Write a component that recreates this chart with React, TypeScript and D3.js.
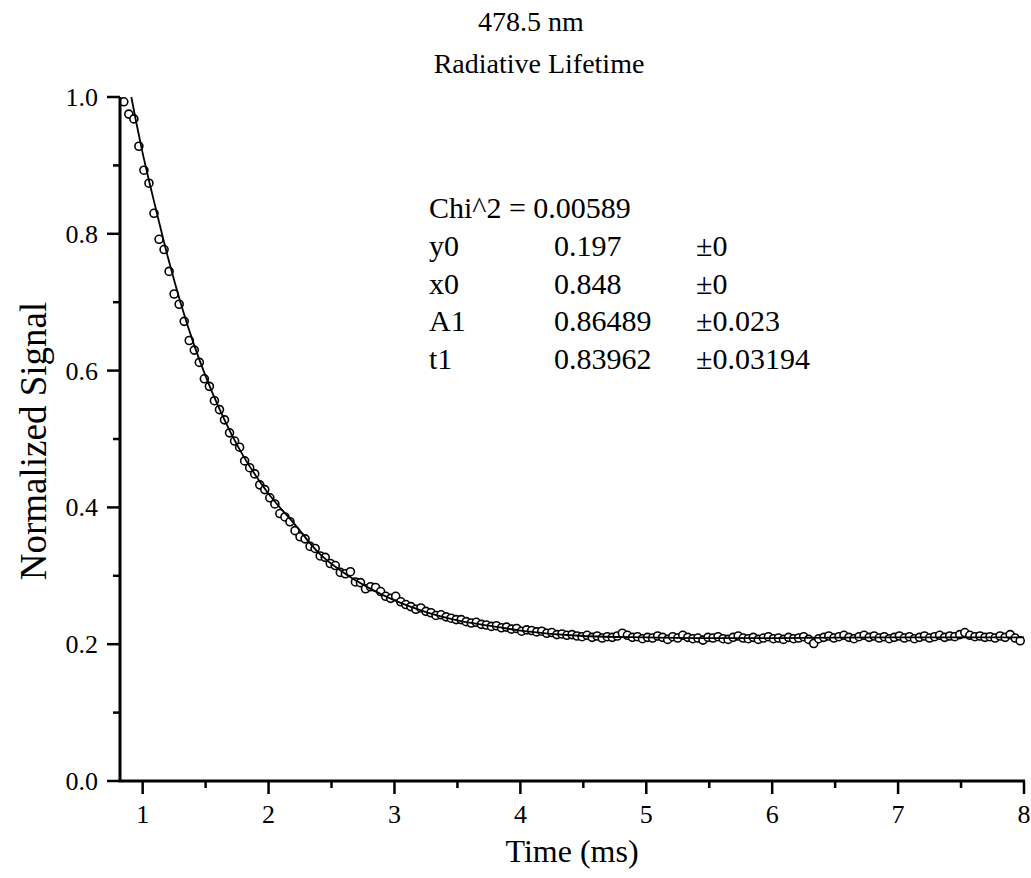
import React from "react";
import * as d3 from "d3";

const times = [
  0.85, 0.89, 0.93, 0.97, 1.01, 1.05, 1.09, 1.13, 1.17, 1.21,
  1.25, 1.29, 1.33, 1.37, 1.41, 1.45, 1.49, 1.53, 1.57, 1.61,
  1.65, 1.69, 1.73, 1.77, 1.81, 1.85, 1.89, 1.93, 1.97, 2.01,
  2.05, 2.09, 2.13, 2.17, 2.21, 2.25, 2.29, 2.33, 2.37, 2.41,
  2.45, 2.49, 2.53, 2.57, 2.61, 2.65, 2.69, 2.73, 2.77, 2.81,
  2.85, 2.89, 2.93, 2.97, 3.01, 3.05, 3.09, 3.13, 3.17, 3.21,
  3.25, 3.29, 3.33, 3.37, 3.41, 3.45, 3.49, 3.53, 3.57, 3.61,
  3.65, 3.69, 3.73, 3.77, 3.81, 3.85, 3.89, 3.93, 3.97, 4.01,
  4.05, 4.09, 4.13, 4.17, 4.21, 4.25, 4.29, 4.33, 4.37, 4.41,
  4.45, 4.49, 4.53, 4.57, 4.61, 4.65, 4.69, 4.73, 4.77, 4.81,
  4.85, 4.89, 4.93, 4.97, 5.01, 5.05, 5.09, 5.13, 5.17, 5.21,
  5.25, 5.29, 5.33, 5.37, 5.41, 5.45, 5.49, 5.53, 5.57, 5.61,
  5.65, 5.69, 5.73, 5.77, 5.81, 5.85, 5.89, 5.93, 5.97, 6.01,
  6.05, 6.09, 6.13, 6.17, 6.21, 6.25, 6.29, 6.33, 6.37, 6.41,
  6.45, 6.49, 6.53, 6.57, 6.61, 6.65, 6.69, 6.73, 6.77, 6.81,
  6.85, 6.89, 6.93, 6.97, 7.01, 7.05, 7.09, 7.13, 7.17, 7.21,
  7.25, 7.29, 7.33, 7.37, 7.41, 7.45, 7.49, 7.53, 7.57, 7.61,
  7.65, 7.69, 7.73, 7.77, 7.81, 7.85, 7.89, 7.93, 7.97,
];

const signal = [
  0.993, 0.975, 0.968, 0.928, 0.893, 0.874, 0.83, 0.792, 0.777, 0.745,
  0.712, 0.697, 0.672, 0.644, 0.63, 0.612, 0.588, 0.577, 0.556, 0.543,
  0.528, 0.509, 0.497, 0.488, 0.468, 0.458, 0.449, 0.433, 0.426, 0.414,
  0.405, 0.391, 0.386, 0.379, 0.366, 0.357, 0.354, 0.343, 0.34, 0.329,
  0.327, 0.318, 0.315, 0.305, 0.303, 0.306, 0.291, 0.29, 0.281, 0.284,
  0.283, 0.277, 0.27, 0.267, 0.27, 0.262, 0.258, 0.255, 0.251, 0.253,
  0.248, 0.246, 0.242, 0.243, 0.24, 0.238, 0.236, 0.236, 0.233, 0.231,
  0.232, 0.229, 0.228, 0.226, 0.227, 0.224, 0.225, 0.222, 0.223, 0.219,
  0.221, 0.22, 0.218, 0.219, 0.216, 0.217, 0.214, 0.215, 0.213, 0.214,
  0.212, 0.211, 0.213, 0.21, 0.212, 0.209, 0.211, 0.21, 0.212, 0.216,
  0.213, 0.21, 0.211, 0.208, 0.21, 0.209, 0.212, 0.21, 0.207, 0.211,
  0.209, 0.213, 0.21, 0.208, 0.209, 0.206, 0.21, 0.209, 0.211, 0.208,
  0.207, 0.21, 0.212, 0.209, 0.208, 0.21, 0.207, 0.209, 0.211, 0.208,
  0.209, 0.207, 0.21, 0.208, 0.209, 0.211, 0.207, 0.201, 0.208, 0.21,
  0.212, 0.209, 0.211, 0.213, 0.21, 0.208, 0.211, 0.213, 0.21, 0.212,
  0.209, 0.211, 0.208, 0.21, 0.212, 0.209, 0.211, 0.208, 0.21, 0.212,
  0.209, 0.211, 0.213, 0.21, 0.212, 0.211, 0.214, 0.217, 0.213, 0.211,
  0.212, 0.21, 0.211, 0.209, 0.212, 0.21, 0.214, 0.209, 0.205,
];

const fitTimes = [
  0.91, 0.95, 1.0, 1.05, 1.1, 1.2, 1.3, 1.4, 1.5, 1.6, 1.7, 1.8, 1.9, 2.0,
  2.2, 2.4, 2.6, 2.8, 3.0, 3.25, 3.5, 3.75, 4.0, 4.5, 5.0, 5.5, 6.0, 7.0, 8.0,
];
const fitValues = [
  1.0, 0.962, 0.918, 0.878, 0.84, 0.766, 0.7, 0.642, 0.592, 0.548, 0.509, 0.475, 0.446, 0.42,
  0.377, 0.333, 0.304, 0.282, 0.264, 0.247, 0.235, 0.227, 0.22, 0.212, 0.21, 0.209, 0.209, 0.21, 0.21,
];

const xMajorTicks = [1, 2, 3, 4, 5, 6, 7, 8];
const xMinorTicks = [1.5, 2.5, 3.5, 4.5, 5.5, 6.5, 7.5];
const yMajorTicks = [0, 0.2, 0.4, 0.6, 0.8, 1.0];
const yMinorTicks = [0.1, 0.3, 0.5, 0.7, 0.9];

const fitLabels = ["y0", "x0", "A1", "t1"];
const fitParams = ["0.197", "0.848", "0.86489", "0.83962"];
const fitErrors = ["\u00b10", "\u00b10", "\u00b10.023", "\u00b10.03194"];
const chiText = "Chi^2 = 0.00589";

const FONT = "Liberation Serif, Times New Roman, Times, serif";

export default function App() {
  const W = 1031;
  const H = 878;
  const x = d3.scaleLinear().domain([0.82, 8]).range([120, 1024]);
  const y = d3.scaleLinear().domain([0, 1]).range([781, 97]);

  const pts = times.map((t, i) => [t, signal[i]] as [number, number]);
  const fitPts = fitTimes.map((t, i) => [t, fitValues[i]] as [number, number]);
  const line = d3
    .line<[number, number]>()
    .x((d) => x(d[0]))
    .y((d) => y(d[1]))
    .curve(d3.curveMonotoneX);

  const axisColor = "#000";
  const x0 = x.range()[0];
  const yb = y(0);
  const ts = { fontFamily: FONT, fill: "#000" } as React.CSSProperties;

  return (
    <svg
      width={W}
      height={H}
      style={{ position: "absolute", left: 0, top: 0, background: "#fff" }}
    >
      <rect x={0} y={0} width={W} height={H} fill="#fff" />
      {/* titles */}
      <text x={531} y={31} fontSize={28} textAnchor="middle" style={ts}>478.5 nm</text>
      <text x={539} y={73} fontSize={28} textAnchor="middle" style={ts}>Radiative Lifetime</text>

      {/* data points */}
      <g>
        {pts.map((d, i) => (
          <circle
            key={i}
            cx={x(d[0])}
            cy={y(d[1])}
            r={4}
            fill="#fff"
            stroke="#000"
            strokeWidth={1.6}
          />
        ))}
      </g>
      {/* fit line */}
      <path d={line(fitPts) || ""} fill="none" stroke="#000" strokeWidth={1.8} />

      {/* axes */}
      <line x1={x0} x2={x0} y1={y(1)} y2={yb} stroke={axisColor} strokeWidth={3} />
      <line x1={x0 - 1.5} x2={x(8) + 1} y1={yb} y2={yb} stroke={axisColor} strokeWidth={3} />
      {yMajorTicks.map((v) => (
        <g key={"ym" + v}>
          <line x1={x0 - 13} x2={x0} y1={y(v)} y2={y(v)} stroke={axisColor} strokeWidth={2.5} />
          <text x={x0 - 22} y={y(v) + 9} fontSize={26} textAnchor="end" style={ts}>
            {v.toFixed(1)}
          </text>
        </g>
      ))}
      {yMinorTicks.map((v) => (
        <line key={"yn" + v} x1={x0 - 7} x2={x0} y1={y(v)} y2={y(v)} stroke={axisColor} strokeWidth={2.5} />
      ))}
      {xMajorTicks.map((v) => (
        <g key={"xm" + v}>
          <line x1={x(v)} x2={x(v)} y1={yb} y2={yb + 13} stroke={axisColor} strokeWidth={2.5} />
          <text x={x(v)} y={yb + 42} fontSize={26} textAnchor="middle" style={ts}>
            {v}
          </text>
        </g>
      ))}
      {xMinorTicks.map((v) => (
        <line key={"xn" + v} x1={x(v)} x2={x(v)} y1={yb} y2={yb + 7} stroke={axisColor} strokeWidth={2.5} />
      ))}

      {/* axis titles */}
      <text x={572} y={862} fontSize={32} textAnchor="middle" style={ts}>Time (ms)</text>
      <text
        transform={`translate(46, 441) rotate(-90)`}
        fontSize={37}
        textAnchor="middle"
        style={ts}
      >
        Normalized Signal
      </text>

      {/* fit annotation */}
      <text x={429} y={218} fontSize={30} style={ts}>{chiText}</text>
      {fitLabels.map((lab, i) => (
        <g key={lab}>
          <text x={429} y={256 + i * 37.5} fontSize={30} style={ts}>{lab}</text>
          <text x={554} y={256 + i * 37.5} fontSize={30} style={ts}>{fitParams[i]}</text>
          <text x={696} y={256 + i * 37.5} fontSize={30} style={ts}>{fitErrors[i]}</text>
        </g>
      ))}
    </svg>
  );
}
